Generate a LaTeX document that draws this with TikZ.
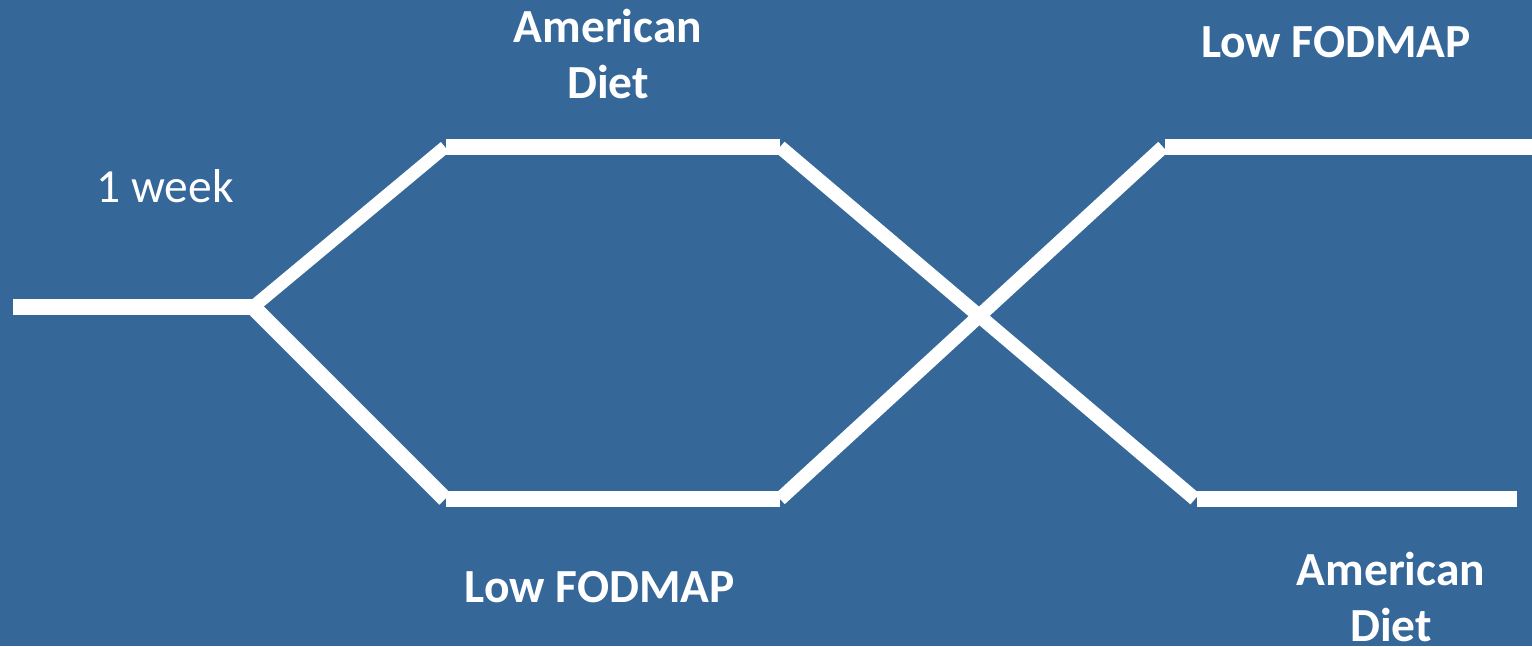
\documentclass[tikz,border=0pt]{standalone}
\usepackage{fontspec}
\setmainfont{Carlito}
\definecolor{slideblue}{HTML}{356899}
\tikzset{
  track/.style={draw=white, line width=16pt},
  branch/.style={draw=white, line width=14pt},
  armlabel/.style={text=white, font=\fontsize{47.5}{56}\selectfont\bfseries, align=center, inner sep=0pt, anchor=base},
  timelabel/.style={text=white, font=\fontsize{47.5}{56}\selectfont, inner sep=0pt, anchor=base}
}
\begin{document}
\begin{tikzpicture}[x=1pt,y=-1pt]
  \fill[slideblue] (0,0) rectangle (1532,646);
  \useasboundingbox (0,0) rectangle (1532,646);

  % junction points of the crossover design
  \coordinate (start) at (13,307);
  \coordinate (split) at (253,307);
  \coordinate (upA) at (445,147);
  \coordinate (upAh) at (446,147);
  \coordinate (upB) at (780,147);
  \coordinate (loA) at (445,499);
  \coordinate (loAh) at (446,499);
  \coordinate (loB) at (780,499);
  \coordinate (upC) at (1163,147);
  \coordinate (upCh) at (1165,147);
  \coordinate (upEnd) at (1532,147);
  \coordinate (loC) at (1195,499);
  \coordinate (loCh) at (1197,499);
  \coordinate (loEnd) at (1517,499);

  % run-in and first period
  \draw[track] (start) -- (split);
  \draw[branch, line width=13pt] (split) -- (upA);
  \draw[branch, line width=16pt] (split) -- (loA);
  \draw[track] (upAh) -- (upB);
  \draw[track] (loAh) -- (loB);

  % crossover to second period
  \draw[branch] (upB) -- (loC);
  \draw[branch] (loB) -- (upC);
  \draw[track] (upCh) -- (upEnd);
  \draw[track] (loCh) -- (loEnd);

  % labels (base anchor sits on the last line of a two-line label)
  \node[timelabel] (week) at (165,202) {1 week};
  \node[armlabel] (am1) at (608,98) {American\\Diet};
  \node[armlabel] (low1) at (600,602) {Low FODMAP};
  \node[armlabel] (low2) at (1336,57) {Low FODMAP};
  \node[armlabel] (am2) at (1391,641) {American\\Diet};
\end{tikzpicture}
\end{document}
